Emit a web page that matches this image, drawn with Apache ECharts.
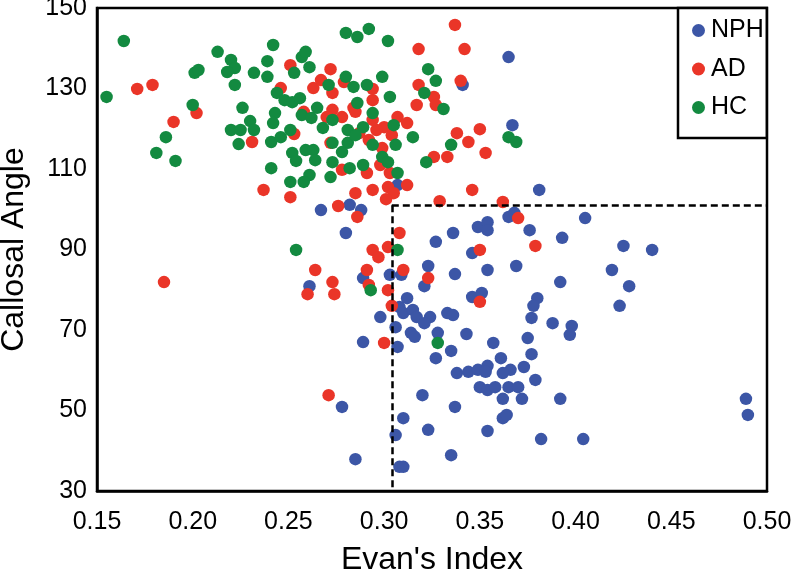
<!DOCTYPE html>
<html>
<head>
<meta charset="utf-8">
<script src="https://cdn.jsdelivr.net/npm/echarts@6/dist/echarts.min.js"></script>
<style>html,body{margin:0;padding:0;background:#fff;}#c{width:799px;height:572px;}</style>
</head>
<body>
<div id="c"></div>
<script>
const seriesNames = ['NPH', 'AD', 'HC'];
const xTicks = [0.15, 0.20, 0.25, 0.30, 0.35, 0.40, 0.45, 0.50];
const yTicks = [30, 50, 70, 90, 110, 130, 150];
const cutX = 0.304;   // Evan's index threshold
const cutY = 101;     // callosal angle threshold

const nph = [
[0.365,137.8],[0.367,120.9],[0.341,130.9],[0.381,104.8],[0.267,99.8],[0.282,101.1],[0.288,99.8],[0.280,94.1],[0.307,106.0],[0.327,91.9],
[0.336,94.1],[0.349,95.6],[0.354,96.8],[0.354,94.8],[0.365,98.1],[0.368,99.1],[0.376,94.8],[0.405,97.8],[0.393,92.9],[0.425,90.9],
[0.440,89.9],[0.346,89.1],[0.323,85.9],[0.337,83.9],[0.354,84.9],[0.369,85.9],[0.419,84.9],[0.392,81.9],[0.428,80.9],[0.321,80.9],
[0.346,78.2],[0.351,79.2],[0.380,77.9],[0.378,76.0],[0.423,76.0],[0.377,73.0],[0.388,71.7],[0.398,71.0],[0.397,68.8],[0.375,68.0],
[0.377,64.0],[0.373,60.8],[0.366,60.1],[0.362,59.3],[0.379,57.6],[0.312,77.9],[0.308,75.7],[0.298,73.2],[0.310,74.2],[0.315,75.0],
[0.317,73.2],[0.324,73.2],[0.321,71.7],[0.333,74.2],[0.336,73.7],[0.306,70.7],[0.314,69.3],[0.316,68.3],[0.328,69.3],[0.343,69.0],
[0.357,66.8],[0.335,64.8],[0.327,63.0],[0.361,63.0],[0.289,67.0],[0.307,65.8],[0.338,59.3],[0.344,59.6],[0.349,60.1],[0.354,61.1],
[0.353,59.6],[0.350,55.8],[0.354,55.1],[0.358,55.8],[0.365,55.8],[0.370,55.8],[0.362,52.9],[0.372,52.9],[0.392,52.9],[0.320,53.8],
[0.337,50.9],[0.310,48.1],[0.362,48.1],[0.364,48.9],[0.323,45.2],[0.354,44.9],[0.306,43.9],[0.382,42.9],[0.404,42.9],[0.335,38.9],
[0.308,36.0],[0.310,36.0],[0.489,52.9],[0.490,48.9],[0.278,50.9],[0.285,37.9],[0.261,80.9],[0.289,82.9],[0.303,83.7],[0.309,83.7]
];

const ad = [
[0.171,129.9],[0.179,130.9],[0.190,121.7],[0.202,123.9],[0.185,81.9],[0.237,104.8],[0.251,103.0],[0.264,84.9],[0.260,78.9],[0.300,66.8],
[0.271,53.8],[0.337,145.8],[0.318,139.8],[0.342,139.8],[0.340,131.9],[0.272,134.8],[0.263,130.1],[0.267,132.1],[0.273,128.9],[0.294,129.9],
[0.294,127.1],[0.318,130.9],[0.326,127.9],[0.317,125.9],[0.327,125.9],[0.307,122.9],[0.312,121.4],[0.338,118.9],[0.350,119.9],[0.344,116.7],
[0.353,114.0],[0.333,113.0],[0.326,113.0],[0.272,116.5],[0.299,115.2],[0.304,118.4],[0.300,120.4],[0.296,119.7],[0.273,124.7],[0.278,122.9],
[0.284,125.2],[0.294,122.2],[0.287,118.9],[0.292,117.2],[0.278,109.8],[0.291,109.0],[0.298,111.0],[0.303,109.0],[0.312,106.0],[0.302,105.5],
[0.305,104.0],[0.285,104.0],[0.294,104.8],[0.346,104.8],[0.329,102.0],[0.276,100.8],[0.286,98.1],[0.308,94.1],[0.294,89.9],[0.297,88.1],
[0.302,90.6],[0.291,84.9],[0.310,84.9],[0.323,82.9],[0.350,89.9],[0.350,77.0],[0.273,81.9],[0.274,78.9],[0.292,81.2],[0.302,79.9],
[0.304,76.0],[0.362,101.8],[0.370,97.8],[0.379,90.9],[0.301,102.5],[0.251,135.8],[0.246,130.1],[0.231,116.7],[0.253,118.7],[0.258,124.2],
[0.270,122.9],[0.279,131.6],[0.285,124.2]
];

const hc = [
[0.155,127.9],[0.164,141.8],[0.181,114.0],[0.186,117.9],[0.191,112.0],[0.200,125.9],[0.201,133.9],[0.203,134.6],[0.213,139.1],[0.220,137.1],
[0.222,135.1],[0.218,134.1],[0.222,130.9],[0.232,133.9],[0.239,136.8],[0.239,132.9],[0.242,140.8],[0.253,133.9],[0.257,137.8],[0.259,139.1],
[0.261,135.3],[0.244,128.9],[0.248,127.1],[0.252,126.6],[0.256,127.6],[0.271,130.9],[0.226,125.2],[0.230,121.9],[0.232,119.7],[0.220,119.7],
[0.225,119.7],[0.224,116.2],[0.243,123.9],[0.242,121.4],[0.241,116.7],[0.246,117.9],[0.251,119.7],[0.257,123.4],[0.262,122.7],[0.265,125.2],
[0.268,120.2],[0.273,116.5],[0.252,114.0],[0.259,114.7],[0.263,114.7],[0.264,112.2],[0.254,112.0],[0.241,110.2],[0.273,111.7],[0.280,143.8],
[0.286,142.8],[0.292,144.8],[0.302,141.8],[0.323,134.8],[0.327,131.9],[0.321,128.9],[0.331,124.9],[0.280,132.9],[0.284,130.4],[0.291,130.9],
[0.299,132.9],[0.303,127.9],[0.286,126.4],[0.294,123.9],[0.273,122.2],[0.281,119.7],[0.289,120.4],[0.305,120.9],[0.315,117.9],[0.306,116.0],
[0.294,116.0],[0.281,116.5],[0.278,114.2],[0.282,110.2],[0.289,111.0],[0.299,113.0],[0.302,111.7],[0.307,109.0],[0.335,116.0],[0.322,111.7],
[0.272,108.0],[0.261,108.5],[0.258,106.8],[0.365,117.9],[0.369,116.7],[0.254,89.9],[0.307,89.9],[0.293,79.9],[0.328,66.8],[0.285,118.4],
[0.251,106.8]
];

const FONT = '"Liberation Sans", Arial, Helvetica, sans-serif';
const colors = ['#3c56a6', '#ea3528', '#138a40'];

const chart = echarts.init(document.getElementById('c'), null, {renderer: 'canvas'});
chart.setOption({
  animation: false,
  textStyle: {fontFamily: FONT},
  grid: {left: 97, right: 32, top: 8, bottom: 81, show: true, borderColor: '#000', borderWidth: 2.5,
         containLabel: false, outerBoundsMode: 'none'},
  xAxis: {
    type: 'value', min: 0.15, max: 0.50,
    name: "Evan's Index", nameLocation: 'middle', nameGap: 53,
    nameTextStyle: {fontSize: 32, color: '#000', fontFamily: FONT},
    axisLine: {show: true, lineStyle: {color: '#000', width: 2.5}},
    axisTick: {show: false},
    splitLine: {show: false},
    axisLabel: {customValues: xTicks, formatter: v => v.toFixed(2), fontSize: 25, color: '#000', margin: 19, fontFamily: FONT}
  },
  yAxis: {
    type: 'value', min: 30, max: 150,
    name: 'Callosal Angle', nameLocation: 'middle', nameGap: 67, nameRotate: 90,
    nameTextStyle: {fontSize: 32, color: '#000', fontFamily: FONT},
    axisLine: {show: true, lineStyle: {color: '#000', width: 2.5}},
    axisTick: {show: false},
    splitLine: {show: false},
    axisLabel: {customValues: yTicks, fontSize: 25, color: '#000', margin: 10, fontFamily: FONT}
  },
  legend: {
    data: seriesNames, orient: 'vertical', left: 678, top: 8,
    icon: 'circle', itemWidth: 13, itemHeight: 13, itemGap: 13.5,
    padding: [10, 3, 18, 14], borderColor: '#000', borderWidth: 2.5,
    backgroundColor: '#fff',
    textStyle: {fontSize: 25, color: '#000', fontFamily: FONT, padding: [0, 0, 0, 1]}
  },
  series: [
    {name: seriesNames[0], type: 'scatter', data: nph, symbolSize: 12.5, itemStyle: {color: colors[0], opacity: 1}},
    {name: seriesNames[1], type: 'scatter', data: ad, symbolSize: 12.5, itemStyle: {color: colors[1], opacity: 1}},
    {name: seriesNames[2], type: 'scatter', data: hc, symbolSize: 12.5, itemStyle: {color: colors[2], opacity: 1},
     markLine: {
       silent: true, symbol: 'none', animation: false,
       label: {show: false},
       lineStyle: {type: [7, 4], color: '#000', width: 2.5},
       data: [
         [{coord: [cutX, cutY]}, {coord: [0.50, cutY]}],
         [{coord: [cutX, cutY]}, {coord: [cutX, 30]}]
       ]
     }}
  ]
});
</script>
</body>
</html>
